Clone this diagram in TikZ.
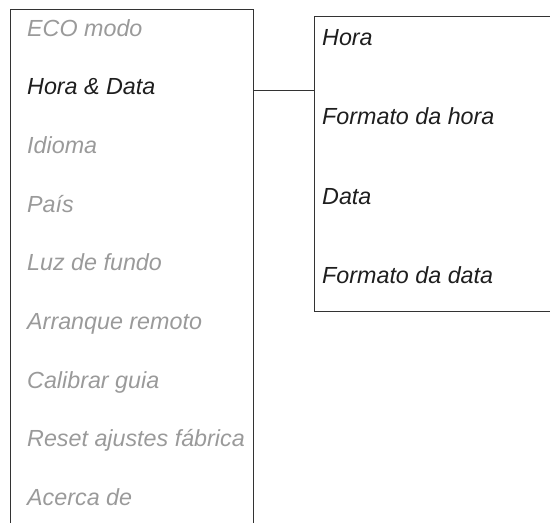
\documentclass[tikz,border=0pt]{standalone}
\usepackage{fontspec}
\setmainfont{Liberation Sans}
\definecolor{graytxt}{HTML}{9A9A9A}
\definecolor{blacktxt}{HTML}{1E1E1E}
\definecolor{linec}{HTML}{333333}
\begin{document}
\begin{tikzpicture}[x=1pt,y=-1pt,
  item/.style={anchor=base west,inner sep=0pt,font=\fontsize{23.3}{27}\selectfont\itshape},
  off/.style={item,text=graytxt},
  on/.style={item,text=blacktxt},
  frame/.style={draw=linec,line width=1pt}]
\useasboundingbox (0,0) rectangle (550,523);
\draw[frame] (10,523) -- (10,9.5) -- (253.5,9.5) -- (253.5,523);
\draw[frame] (550,16.5) -- (314.5,16.5) -- (314.5,311) -- (550,311);
\coordinate (lb) at (253.5,90);
\coordinate (rb) at (314.5,90);
\draw[frame] (lb) -- (rb);
\node[off] (i1) at (27,36) {ECO modo};
\node[on]  (i2) at (27,94.7) {Hora \& Data};
\node[off] (i3) at (27,153.4) {Idioma};
\node[off] (i4) at (27,212.1) {País};
\node[off] (i5) at (27,270.8) {Luz de fundo};
\node[off] (i6) at (27,329.5) {Arranque remoto};
\node[off] (i7) at (27,388.2) {Calibrar guia};
\node[off] (i8) at (27,446.9) {Reset ajustes fábrica};
\node[off] (i9) at (27,505.6) {Acerca de};
\node[on] (s1) at (322,45) {Hora};
\node[on] (s2) at (322,124.5) {Formato da hora};
\node[on] (s3) at (322,204) {Data};
\node[on] (s4) at (322,283.5) {Formato da data};
\end{tikzpicture}
\end{document}
